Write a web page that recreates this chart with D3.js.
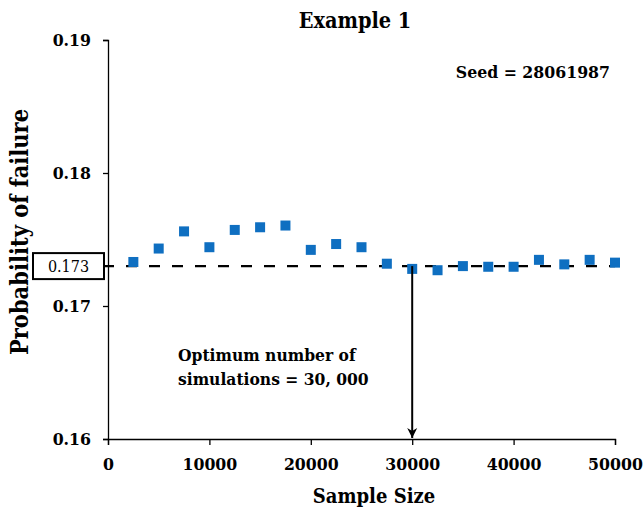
<!DOCTYPE html>
<html>
<head>
<meta charset="utf-8">
<script src="https://cdn.jsdelivr.net/npm/d3@7/dist/d3.min.js"></script>
<style>
  html, body { margin: 0; padding: 0; background: #fff; }
</style>
</head>
<body>
<svg id="chart" width="644" height="512"></svg>
<script>
// Sample sizes and estimated probability of failure
const sampleSizes = [2500, 5000, 7500, 10000, 12500, 15000, 17500, 20000, 22500, 25000,
                     27500, 30000, 32500, 35000, 37500, 40000, 42500, 45000, 47500, 50000];
const failureProb = [0.17331, 0.17432, 0.17561, 0.17442, 0.17572, 0.17592, 0.17605, 0.17422, 0.17466, 0.17442,
                     0.17318, 0.17279, 0.17269, 0.17300, 0.17295, 0.17295, 0.17347, 0.17313, 0.17347, 0.17326];
const xTicks = [0, 10000, 20000, 30000, 40000, 50000];
const yTicks = [0.16, 0.17, 0.18, 0.19];
const convergedValue = 0.173;
const optimumSize = 30000;

const SERIF = "'DejaVu Serif Condensed', 'DejaVu Serif', serif";

const svg = d3.select("#chart");
const margin = { left: 108, right: 29, top: 40, bottom: 73 };
const W = 644, H = 512;

const x = d3.scaleLinear().domain([0, 50000]).range([margin.left, W - margin.right]);
const y = d3.scaleLinear().domain([0.16, 0.19]).range([H - margin.bottom, margin.top]);

function styleText(sel, size, weight = "bold") {
  return sel.style("font-family", SERIF).style("font-stretch", "condensed")
    .style("font-weight", weight).style("font-size", size + "px").attr("fill", "#000");
}

// Axes
const xAxis = svg.append("g")
  .attr("transform", `translate(0,${y(0.16)})`)
  .call(d3.axisBottom(x).tickValues(xTicks).tickFormat(d3.format("d")).tickSizeOuter(0).tickSize(6));
const yAxis = svg.append("g")
  .attr("transform", `translate(${x(0)},0)`)
  .call(d3.axisLeft(y).tickValues(yTicks).tickFormat(d3.format(".2f")).tickSizeOuter(0).tickSize(5));

[xAxis, yAxis].forEach(g => {
  g.select(".domain").attr("stroke", "#000").attr("stroke-width", 1.3);
  g.selectAll(".tick line").attr("stroke", "#000").attr("stroke-width", 1.3);
  styleText(g.selectAll(".tick text"), 17.5);
});
xAxis.selectAll(".tick text").attr("dy", "1.25em");
yAxis.selectAll(".tick text").attr("x", -17);

// Reference line at the converged probability
svg.append("line")
  .attr("x1", x(0) - 5).attr("x2", x(50000))
  .attr("y1", y(convergedValue)).attr("y2", y(convergedValue))
  .attr("stroke", "#000").attr("stroke-width", 2.2)
  .attr("stroke-dasharray", "11,12");

// Boxed value label
const boxW = 71, boxH = 26;
svg.append("rect")
  .attr("x", 33).attr("y", y(convergedValue) - boxH / 2)
  .attr("width", boxW).attr("height", boxH)
  .attr("fill", "#fff").attr("stroke", "#000").attr("stroke-width", 2);
styleText(svg.append("text"), 16, "normal")
  .attr("x", 33 + boxW / 2).attr("y", y(convergedValue) + 6)
  .attr("text-anchor", "middle")
  .text(convergedValue.toFixed(3));

// Data markers
const size = 10;
svg.append("g").selectAll("rect")
  .data(sampleSizes.map((s, i) => ({ s, p: failureProb[i] })))
  .join("rect")
  .attr("x", d => x(d.s) - size / 2)
  .attr("y", d => y(d.p) - size / 2)
  .attr("width", size).attr("height", size)
  .attr("fill", "#0f6fc1");

// Arrow marking the optimum number of simulations
svg.append("defs").append("marker")
  .attr("id", "arrowhead")
  .attr("viewBox", "0 0 10 10")
  .attr("refX", 10).attr("refY", 5)
  .attr("markerWidth", 10).attr("markerHeight", 12)
  .attr("markerUnits", "userSpaceOnUse")
  .attr("orient", "auto")
  .append("path").attr("d", "M0,0 L10,5 L0,10 L3,5 Z").attr("fill", "#000");
svg.append("line")
  .attr("x1", x(optimumSize)).attr("x2", x(optimumSize))
  .attr("y1", y(convergedValue)).attr("y2", y(0.16) - 1)
  .attr("stroke", "#000").attr("stroke-width", 2)
  .attr("marker-end", "url(#arrowhead)");

// Annotation
const note = styleText(svg.append("text"), 17.3).attr("x", 178).attr("y", 361);
note.append("tspan").attr("x", 178).text("Optimum number of");
note.append("tspan").attr("x", 178).attr("dy", 24).text("simulations = 30, 000");

styleText(svg.append("text"), 17.5)
  .attr("x", 610).attr("y", 78).attr("text-anchor", "end")
  .text("Seed = 28061987");

// Titles
styleText(svg.append("text"), 21.5)
  .attr("x", 355).attr("y", 28).attr("text-anchor", "middle")
  .text("Example 1");
styleText(svg.append("text"), 20)
  .attr("x", 374).attr("y", 503).attr("text-anchor", "middle")
  .text("Sample Size");
styleText(svg.append("text"), 23.4)
  .attr("transform", `translate(28,${232}) rotate(-90)`)
  .attr("text-anchor", "middle")
  .text("Probability of failure");
</script>
</body>
</html>
